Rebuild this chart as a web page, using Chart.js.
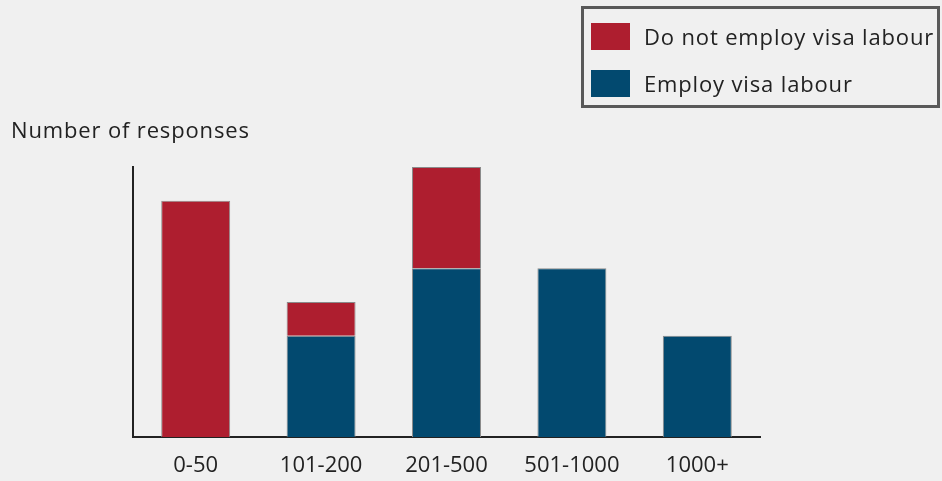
<!DOCTYPE html>
<html>
<head>
<meta charset="utf-8">
<script src="https://cdn.jsdelivr.net/npm/chart.js@4"></script>
<style>
  html, body { margin: 0; padding: 0; background: #f0f0f0; }
  #wrap { position: relative; width: 942px; height: 481px; font-family: "Open Sans", Lato, sans-serif; color: #222; }
  #chart { position: absolute; left: 0; top: 0; }
  #ytitle { position: absolute; left: 11px; top: 114px; font-size: 22px; letter-spacing: 0.85px; }
  #legend { position: absolute; left: 581px; top: 6px; width: 353px; height: 96px; border: 3px solid #595959; box-sizing: content-box; }
  .item { position: absolute; left: 7px; display: flex; align-items: center; font-size: 22px; letter-spacing: 0.85px; white-space: nowrap; }
  .swatch { width: 39px; height: 27px; margin-right: 14px; }
</style>
</head>
<body>
<div id="wrap">
  <canvas id="chart" width="942" height="481"></canvas>
  <div id="ytitle">Number of responses</div>
  <div id="legend">
    <div class="item" style="top:12px"><span class="swatch" style="background:#ae1e2f"></span>Do not employ visa labour</div>
    <div class="item" style="top:59px"><span class="swatch" style="background:#02496f"></span>Employ visa labour</div>
  </div>
</div>
<script>
// ===========================
// Dados
// ===========================
const categorias = ['0-50', '101-200', '201-500', '501-1000', '1000+'];
const employVisa = [0, 3, 5, 5, 3];
const doNotEmployVisa = [7, 1, 3, 0, 0];

const ctx = document.getElementById('chart').getContext('2d');

new Chart(ctx, {
    type: 'bar',
    data: {
        labels: categorias,
        datasets: [{
            label: 'Employ visa labour',
            data: employVisa,
            backgroundColor: '#02496f',
            borderColor: '#8a8a8a',
            borderWidth: 1,
            categoryPercentage: 1,
            barPercentage: 0.55
        }, {
            label: 'Do not employ visa labour',
            data: doNotEmployVisa,
            backgroundColor: '#ae1e2f',
            borderColor: '#8a8a8a',
            borderWidth: 1,
            categoryPercentage: 1,
            barPercentage: 0.55
        }]
    },
    options: {
        responsive: false,
        animation: false,
        layout: {
            padding: { left: 125, right: 182, top: 167, bottom: 0 }
        },
        plugins: {
            legend: { display: false },
            tooltip: { enabled: false }
        },
        scales: {
            x: {
                stacked: true,
                grid: { display: false },
                border: { display: true, color: '#222', width: 2 },
                ticks: {
                    color: '#222',
                    padding: 8,
                    font: { family: 'Open Sans', size: 22 }
                },
                // altura fixa do eixo para alinhar a base em y=437
                afterFit: (scale) => { scale.height = 44; }
            },
            y: {
                stacked: true,
                min: 0,
                max: 8,
                grid: { display: false },
                border: { display: true, color: '#222', width: 2 },
                ticks: { display: false }
            }
        }
    }
});
</script>
</body>
</html>
